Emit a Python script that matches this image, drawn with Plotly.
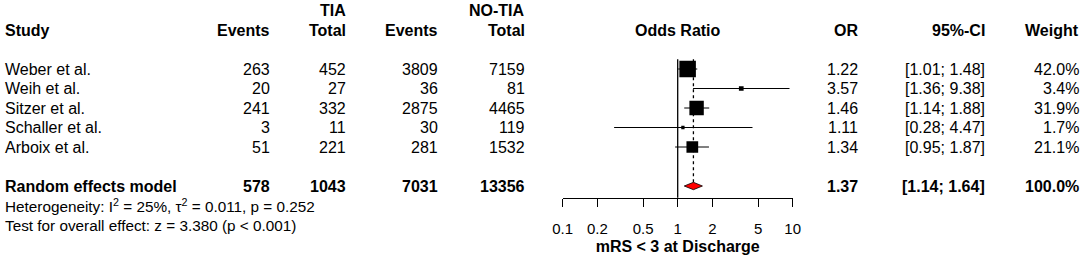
import plotly.graph_objects as go

# ---------------- data ----------------
studies = ["Weber et al.", "Weih et al.", "Sitzer et al.", "Schaller et al.", "Arboix et al."]
tia_events = [263, 20, 241, 3, 51]
tia_total = [452, 27, 332, 11, 221]
notia_events = [3809, 36, 2875, 30, 281]
notia_total = [7159, 81, 4465, 119, 1532]
odds_ratio = [1.22, 3.57, 1.46, 1.11, 1.34]
ci_lower = [1.01, 1.36, 1.14, 0.28, 0.95]
ci_upper = [1.48, 9.38, 1.88, 4.47, 1.87]
weights = [42.0, 3.4, 31.9, 1.7, 21.1]

pooled_label = "Random effects model"
pooled_counts = [578, 1043, 7031, 13356]
pooled_or = 1.37
pooled_lower = 1.14
pooled_upper = 1.64
pooled_weight = 100.0

het_text = "Heterogeneity: I<sup>2</sup> = 25%, \u03c4<sup>2</sup> = 0.011, p = 0.252"
test_text = "Test for overall effect: z = 3.380 (p < 0.001)"

tick_vals = [0.1, 0.2, 0.5, 1, 2, 5, 10]
tick_text = ["0.1", "0.2", "0.5", "1", "2", "5", "10"]
x_title = "mRS < 3 at Discharge"

# ---------------- layout geometry (pixels) ----------------
W, H = 1084, 258
ROW0_PX = 30.0      # pixel y of header row
ROW_H = 19.5        # row height in px
AX_PX = 197.7       # pixel y of forest axis line
FOREST_L, FOREST_R = 562.7, 792.7
FONT = "Liberation Sans, Arial, Helvetica, sans-serif"
FS = 16

def px2row(p):
    return (p - ROW0_PX) / ROW_H

study_rows = [2 + i for i in range(len(studies))]
pooled_row = study_rows[-1] + 2
het_row = pooled_row + 1
test_row = pooled_row + 2
axis_row = px2row(AX_PX)
top_row = study_rows[0] - 0.5

fig = go.Figure()

# confidence interval lines
cx, cy = [], []
for lo, hi, r in zip(ci_lower, ci_upper, study_rows):
    cx += [lo, hi, None]
    cy += [r, r, None]
fig.add_trace(go.Scatter(x=cx, y=cy, mode="lines", line=dict(color="black", width=1),
                         hoverinfo="skip", showlegend=False))
# line of no effect
fig.add_trace(go.Scatter(x=[1, 1], y=[top_row, axis_row], mode="lines",
                         line=dict(color="black", width=1.3), hoverinfo="skip", showlegend=False))
# pooled estimate dotted line
fig.add_trace(go.Scatter(x=[pooled_or, pooled_or], y=[top_row, pooled_row], mode="lines",
                         line=dict(color="black", width=1.3, dash="dot"), hoverinfo="skip",
                         showlegend=False))
# study squares (area proportional to weight)
sizes = [2.55 * (w ** 0.5) for w in weights]
fig.add_trace(go.Scatter(x=odds_ratio, y=study_rows, mode="markers",
                         marker=dict(symbol="square", size=sizes, color="#000000", opacity=1,
                                     line=dict(width=0)),
                         hoverinfo="skip", showlegend=False))
# pooled diamond
dh = 3.7 / ROW_H
fig.add_trace(go.Scatter(x=[pooled_lower, pooled_or, pooled_upper, pooled_or, pooled_lower],
                         y=[pooled_row, pooled_row - dh, pooled_row, pooled_row + dh, pooled_row],
                         mode="lines", fill="toself", fillcolor="red",
                         line=dict(color="black", width=0.8), hoverinfo="skip", showlegend=False))

ann = []

def txt(x_px, row, text, anchor="right", bold=False, size=FS):
    if bold:
        text = "<b>" + text + "</b>"
    ann.append(dict(x=x_px / W, xref="paper", y=row, yref="y", text=text, showarrow=False,
                    xanchor=anchor, yanchor="middle", borderpad=0,
                    font=dict(family=FONT, size=size, color="black")))

COL_EV1, COL_TOT1, COL_EV2, COL_TOT2 = 270.7, 346.7, 439.3, 525.5
COL_OR, COL_CI, COL_W = 859.3, 985.5, 1079.5

txt(4, 0, "Study", "left", True)
txt(COL_EV1, 0, "Events", bold=True)
txt(COL_TOT1, 0, "Total", bold=True)
txt(COL_TOT1, -1, "TIA", bold=True)
txt(COL_EV2, 0, "Events", bold=True)
txt(COL_TOT2, 0, "Total", bold=True)
txt(COL_TOT2, -1, "NO-TIA", bold=True)
txt((FOREST_L + FOREST_R) / 2, 0, "Odds Ratio", "center", True)
txt(COL_OR, 0, "OR", bold=True)
txt(COL_CI, 0, "95%-CI", bold=True)
txt(COL_W, 0, "Weight", bold=True)

for i, r in enumerate(study_rows):
    txt(4, r, studies[i], "left")
    txt(COL_EV1, r, str(tia_events[i]))
    txt(COL_TOT1, r, str(tia_total[i]))
    txt(COL_EV2, r, str(notia_events[i]))
    txt(COL_TOT2, r, str(notia_total[i]))
    txt(COL_OR, r, f"{odds_ratio[i]:.2f}")
    txt(COL_CI, r, f"[{ci_lower[i]:.2f}; {ci_upper[i]:.2f}]")
    txt(COL_W, r, f"{weights[i]:.1f}%")

txt(4, pooled_row, pooled_label, "left", True)
for xp, v in zip([COL_EV1, COL_TOT1, COL_EV2, COL_TOT2], pooled_counts):
    txt(xp, pooled_row, str(v), bold=True)
txt(COL_OR, pooled_row, f"{pooled_or:.2f}", bold=True)
txt(COL_CI, pooled_row, f"[{pooled_lower:.2f}; {pooled_upper:.2f}]", bold=True)
txt(COL_W, pooled_row, f"{pooled_weight:.1f}%", bold=True)

txt(4, het_row, het_text, "left", size=15.3)
txt(4, test_row, test_text, "left", size=15.3)

fig.update_layout(
    width=W, height=H, margin=dict(l=0, r=0, t=0, b=0, autoexpand=False),
    paper_bgcolor="white", plot_bgcolor="white",
    annotations=ann,
    font=dict(family=FONT, size=FS, color="black"),
    xaxis=dict(type="log", range=[-1, 1], domain=[FOREST_L / W, FOREST_R / W],
               anchor="free", position=1 - AX_PX / H, automargin=False,
               showgrid=False, zeroline=False, showline=True, linecolor="black", linewidth=1.3,
               ticks="outside", ticklen=8, tickwidth=1.3, tickcolor="black",
               tickvals=tick_vals, ticktext=tick_text,
               tickfont=dict(family=FONT, size=15, color="black"),
               ticklabelstandoff=9,
               title=dict(text="<b>" + x_title + "</b>", standoff=4,
                          font=dict(family=FONT, size=16, color="black"))),
    yaxis=dict(range=[px2row(H), px2row(0)], domain=[0, 1], visible=False),
)

fig.write_html("out.html", config={"displayModeBar": False},
               post_script="document.body.style.margin='0';document.body.style.overflow='hidden';")
